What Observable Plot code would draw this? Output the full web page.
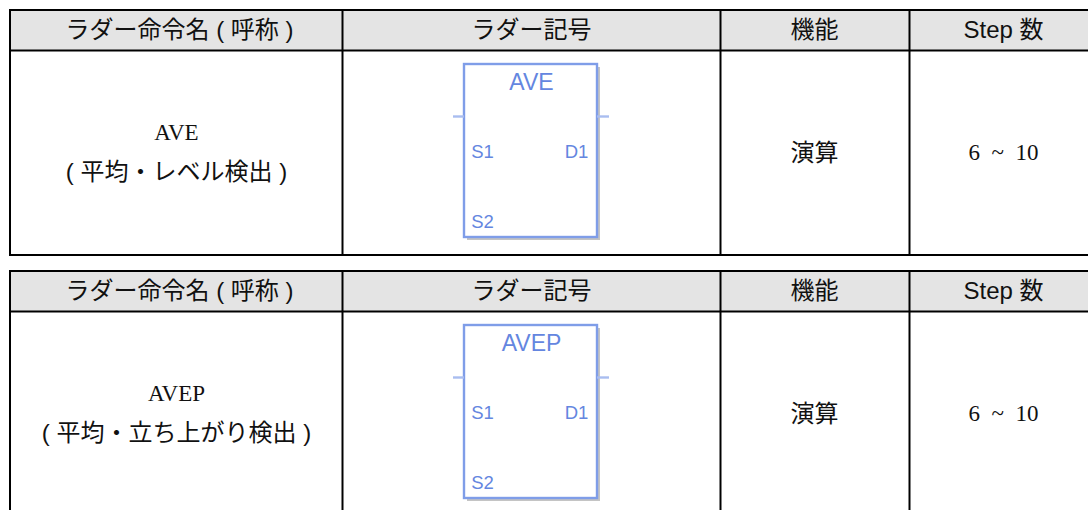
<!DOCTYPE html>
<html><head><meta charset="utf-8">
<style>html,body{margin:0;padding:0;background:#fff;overflow:hidden}svg{display:block}</style>
<script src="https://cdn.jsdelivr.net/npm/d3@7"></script>
<script src="https://cdn.jsdelivr.net/npm/@observablehq/plot@0.6"></script>
</head><body><script>
const columnEdges = [10, 342, 720, 909, 1097];
const tableTops = [10, 271];
const tableHeads = [50, 311];
const tableBottoms = [255, 516];
const headerLabels = ["ラダー命令名 ( 呼称 )", "ラダー記号", "機能", "Step 数"];
const headerCenters = [179, 531, 814, 1003];
const names = ["AVE", "AVEP"];
const descriptions = ["( 平均・レベル検出 )", "( 平均・立ち上がり検出 )"];
const functions = ["演算", "演算"];
const steps = ["6\u00a0\u00a0~\u00a0\u00a010", "6\u00a0\u00a0~\u00a0\u00a010"];
const blockTops = [64, 325];
const blockBottoms = [237, 498];
const blockLeft = 464, blockRight = 597;
const pinLeft = 453, pinRight = 609;
const blue = "#7f9de8";
const textBlue = "#6486e0";

const sans = "'Liberation Sans','Noto Sans CJK JP',sans-serif";
const serif = "'Liberation Serif','Noto Sans CJK JP',serif";
const tables = tableTops.map((t, i) => ({t, h: tableHeads[i], b: tableBottoms[i], i}));
const headers = tables.flatMap(T => headerLabels.map((label, c) => ({label, x: headerCenters[c], y: (T.t + T.h) / 2})));
const rows = tables.map((T, i) => ({
  i, name: names[i], desc: descriptions[i], fn: functions[i], step: steps[i],
  t: blockTops[i], b: blockBottoms[i], mid: (T.h + T.b) / 2
}));

const plot = Plot.plot({
  width: 1088, height: 510,
  margin: 0,
  x: {type: "identity", axis: null},
  y: {type: "identity", axis: null},
  marks: [
    Plot.rect(tables, {x1: columnEdges[0], x2: columnEdges[4], y1: "t", y2: "h", fill: "#e4e4e4"}),
    // block shadow, body, pins
    Plot.rect(rows, {x1: blockLeft + 3, x2: blockRight + 3, y1: d => d.t + 3, y2: d => d.b + 3, fill: "#c4c4c4"}),
    Plot.rect(rows, {x1: blockLeft, x2: blockRight, y1: "t", y2: "b", fill: "#fff", stroke: blue, strokeWidth: 2.4}),
    Plot.ruleY(rows, {y: d => d.t + 52, x1: pinLeft, x2: blockLeft, stroke: "#a9bdf0", strokeWidth: 2.4}),
    Plot.ruleY(rows, {y: d => d.t + 52, x1: blockRight, x2: pinRight, stroke: "#a9bdf0", strokeWidth: 2.4}),
    // block labels
    Plot.text(rows, {x: 531, y: d => d.t + 18, text: "name", fontFamily: sans, fontSize: 23, fill: textBlue}),
    Plot.text(rows, {x: 482, y: d => d.t + 88, text: () => "S1", fontFamily: sans, fontSize: 18.5, fill: textBlue}),
    Plot.text(rows, {x: 576, y: d => d.t + 88, text: () => "D1", fontFamily: sans, fontSize: 18.5, fill: textBlue}),
    Plot.text(rows, {x: 482, y: d => d.t + 158, text: () => "S2", fontFamily: sans, fontSize: 18.5, fill: textBlue}),
    // header text
    Plot.text(headers, {x: "x", y: "y", text: "label", fontFamily: sans, fontSize: 24, fill: "#111"}),
    // body text
    Plot.text(rows, {x: 176, y: d => d.mid - 20, text: "name", fontFamily: serif, fontSize: 23, fill: "#111"}),
    Plot.text(rows, {x: 176, y: d => d.mid + 19, text: "desc", fontFamily: sans, fontSize: 24, fill: "#111"}),
    Plot.text(rows, {x: 814, y: d => d.mid, text: "fn", fontFamily: sans, fontSize: 24, fill: "#111"}),
    Plot.text(rows, {x: 1003, y: d => d.mid, text: "step", fontFamily: serif, fontSize: 23, fill: "#111"}),
    // grid lines
    Plot.rect(tables, {x1: columnEdges[0], x2: columnEdges[4], y1: "t", y2: "b", stroke: "#000", strokeWidth: 2, fill: "none"}),
    Plot.ruleY(tables, {y: "h", x1: columnEdges[0], x2: columnEdges[4], stroke: "#000", strokeWidth: 2}),
    ...columnEdges.slice(1, -1).map(x => Plot.ruleX(tables, {x: () => x, y1: "t", y2: "b", stroke: "#000", strokeWidth: 2}))
  ]
});
document.body.appendChild(plot);
</script></body></html>
